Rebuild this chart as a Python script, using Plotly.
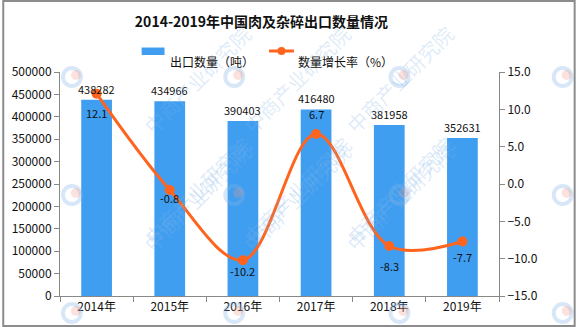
import plotly.graph_objects as go

# Export volume of meat and offal, 2014-2019
years = ["2014年", "2015年", "2016年", "2017年", "2018年", "2019年"]
volume_t = [438282, 434966, 390403, 416480, 381958, 352631]
growth_pct = [12.1, -0.8, -10.2, 6.7, -8.3, -7.7]

W, H = 576, 327
ML, MR, MT, MB = 58, 77, 72, 31
PW, PH = W - ML - MR, H - MT - MB

BAR_C = "#409ef1"
LINE_C = "#ff641e"
AXIS_C = "#888888"
FONT = "Noto Sans CJK SC"


def px(x):
    return (x - ML) / PW


def py(y):
    return (H - MB - y) / PH


fig = go.Figure()

fig.add_trace(go.Bar(
    x=years, y=volume_t, name="出口数量（吨）",
    marker=dict(color=BAR_C, line=dict(width=0)),
    showlegend=False, hoverinfo="x+y",
))

fig.add_trace(go.Scatter(
    x=years, y=growth_pct, name="数量增长率（%）", yaxis="y2",
    mode="lines+markers",
    line=dict(color=LINE_C, width=3, shape="spline", smoothing=1.0),
    marker=dict(color=LINE_C, size=10),
    showlegend=False,
))

annotations = []
shapes = []

# bar value labels
for cat, v in zip(years, volume_t):
    annotations.append(dict(
        x=cat, y=v, xref="x", yref="y", text=str(v), showarrow=False,
        yshift=11, font=dict(family=FONT, size=11, color="#111111"),
    ))

# growth-rate labels
label_shift = [-19, -8, -11, 20, -20, -16]
for cat, v, s in zip(years, growth_pct, label_shift):
    annotations.append(dict(
        x=cat, y=v, xref="x", yref="y2", text=f"{v:.1f}", showarrow=False,
        yshift=s, font=dict(family=FONT, size=11, color="#111111"),
    ))

# tiled watermark: small logo ring followed by the institute name
for lx in (-93, 70, 233, 399, 563):
    for ly in (77, 195, 313):
        if 0 < lx < 500:
            annotations.append(dict(
                x=px(lx + 63), y=py(ly - 60), xref="paper", yref="paper",
                text="中商产业研究院", showarrow=False, textangle=-45,
                font=dict(family=FONT, size=20, color="rgba(130,180,230,0.26)"),
            ))
        shapes.append(dict(
            type="circle", xref="paper", yref="paper",
            x0=px(lx - 9), x1=px(lx + 9), y0=py(ly + 9), y1=py(ly - 9),
            line=dict(color="rgba(130,180,230,0.32)", width=4),
            layer="above",
        ))
        shapes.append(dict(
            type="circle", xref="paper", yref="paper",
            x0=px(lx - 1), x1=px(lx + 9), y0=py(ly + 3), y1=py(ly - 7),
            fillcolor="rgba(240,150,130,0.28)", line=dict(width=0),
            layer="above",
        ))

# legend
annotations += [
    dict(x=px(166), y=py(51), xref="paper", yref="paper", xanchor="left",
         text="出口数量（吨）", showarrow=False,
         font=dict(family=FONT, size=12, color="#111111")),
    dict(x=px(295), y=py(51), xref="paper", yref="paper", xanchor="left",
         text="数量增长率（%）", showarrow=False,
         font=dict(family=FONT, size=12, color="#111111")),
]

shapes += [
    dict(type="rect", xref="paper", yref="paper",
         x0=px(140), x1=px(163), y0=py(55), y1=py(47.5),
         fillcolor=BAR_C, line=dict(width=0)),
    dict(type="line", xref="paper", yref="paper",
         x0=px(268), x1=px(293), y0=py(51), y1=py(51),
         line=dict(color=LINE_C, width=3)),
    dict(type="circle", xref="paper", yref="paper",
         x0=px(276.5), x1=px(284.5), y0=py(55), y1=py(47),
         fillcolor=LINE_C, line=dict(width=0)),
    # outer frame
    dict(type="rect", xref="paper", yref="paper",
         x0=px(1), x1=px(575), y0=py(326), y1=py(1),
         line=dict(color="#8c8c8c", width=2), layer="above"),
]

fig.update_layout(
    width=W, height=H,
    margin=dict(l=ML, r=MR, t=MT, b=MB),
    paper_bgcolor="white", plot_bgcolor="white",
    bargap=0.58,
    font=dict(family=FONT, size=12, color="#111111"),
    title=dict(
        text="<b>2014-2019年中国肉及杂碎出口数量情况</b>",
        x=261.5 / W, xanchor="center", y=1 - 22 / H, yanchor="middle",
        font=dict(family=FONT, size=14, color="#111111"),
    ),
    xaxis=dict(
        type="category", showgrid=False, zeroline=False,
        showline=True, linecolor=AXIS_C, linewidth=1,
        ticks="outside", tickson="boundaries", ticklen=5, tickcolor=AXIS_C,
        tickfont=dict(family=FONT, size=12, color="#111111"),
    ),
    yaxis=dict(
        range=[0, 500000], dtick=50000, showgrid=False, zeroline=False,
        showline=True, linecolor=AXIS_C, linewidth=1,
        ticks="outside", ticklen=5, tickcolor=AXIS_C,
        tickformat="d",
        tickfont=dict(family=FONT, size=12, color="#111111"),
    ),
    yaxis2=dict(
        range=[-15, 15], dtick=5, overlaying="y", side="right",
        showgrid=False, zeroline=False,
        showline=True, linecolor=AXIS_C, linewidth=1,
        ticks="outside", ticklen=5, tickcolor=AXIS_C,
        tickformat=".1f",
        tickfont=dict(family=FONT, size=12, color="#111111"),
    ),
    annotations=annotations,
    shapes=shapes,
)

fig.write_html("out.html")
